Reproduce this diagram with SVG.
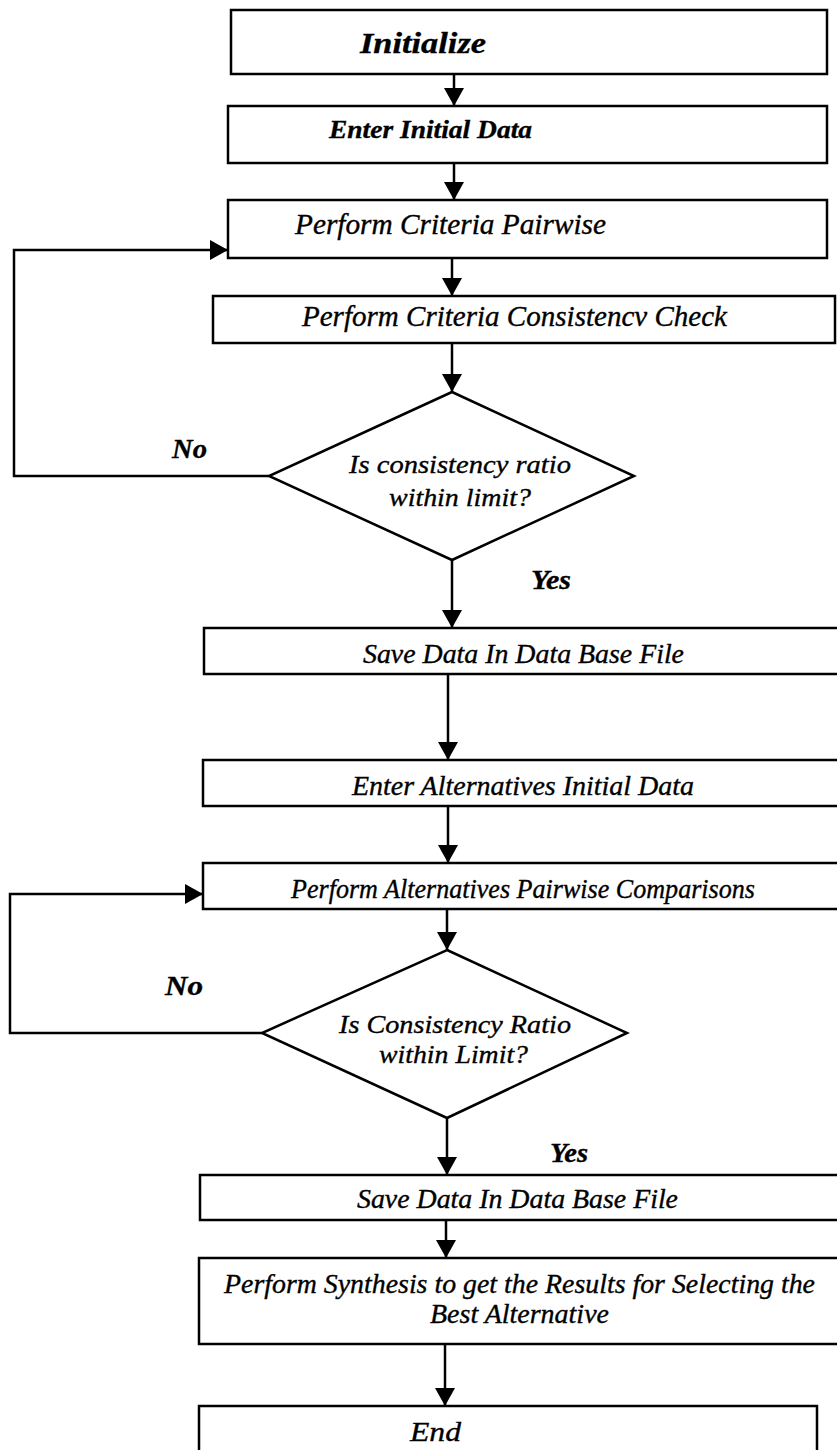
<svg xmlns="http://www.w3.org/2000/svg" width="837" height="1450" viewBox="0 0 837 1450">
<style>
.box{fill:#fff;stroke:#000;stroke-width:2.5}
.ln{fill:none;stroke:#000;stroke-width:2.5}
.t{font-family:"Liberation Serif","Times New Roman",serif;font-style:italic;fill:#000;stroke:#000;stroke-width:0.35}
.b{font-weight:bold}
</style>
<defs>
<marker id="ah" markerUnits="userSpaceOnUse" markerWidth="18" markerHeight="20" viewBox="0 0 18 20" refX="18" refY="10" orient="auto">
<path d="M0,0 L18,10 L0,20 Z" fill="#000"/>
</marker>
</defs>
<rect width="837" height="1450" fill="#fff"/>
<g id="connectors">
<path class="ln" d="M454,75 V106" marker-end="url(#ah)"/>
<path class="ln" d="M454,163 V200" marker-end="url(#ah)"/>
<path class="ln" d="M452,258 V296" marker-end="url(#ah)"/>
<path class="ln" d="M452,343 V392" marker-end="url(#ah)"/>
<path class="ln" d="M452,560 V628" marker-end="url(#ah)"/>
<path class="ln" d="M269,476 H14 V250 H228" marker-end="url(#ah)"/>
<path class="ln" d="M448,674 V760" marker-end="url(#ah)"/>
<path class="ln" d="M448,806 V863" marker-end="url(#ah)"/>
<path class="ln" d="M447,909 V950" marker-end="url(#ah)"/>
<path class="ln" d="M447,1118 V1175" marker-end="url(#ah)"/>
<path class="ln" d="M262,1033 H10 V894 H203" marker-end="url(#ah)"/>
<path class="ln" d="M446,1220 V1258" marker-end="url(#ah)"/>
<path class="ln" d="M445,1344 V1406" marker-end="url(#ah)"/>
<text class="t b" x="172" y="458" font-size="27" textLength="35" lengthAdjust="spacingAndGlyphs">No</text>
<text class="t b" x="531" y="589" font-size="27" textLength="40" lengthAdjust="spacingAndGlyphs">Yes</text>
<text class="t b" x="165" y="995" font-size="27" textLength="38" lengthAdjust="spacingAndGlyphs">No</text>
<text class="t b" x="550" y="1162" font-size="27" textLength="38" lengthAdjust="spacingAndGlyphs">Yes</text>
</g>
<g id="n-initialize">
<rect class="box" x="231" y="10" width="596" height="64"/>
<text class="t b" x="360" y="53" font-size="29" textLength="126" lengthAdjust="spacingAndGlyphs">Initialize</text>
</g>
<g id="n-enter-initial">
<rect class="box" x="228" y="106" width="599" height="57"/>
<text class="t b" x="329" y="138" font-size="26" textLength="203" lengthAdjust="spacingAndGlyphs">Enter Initial Data</text>
</g>
<g id="n-criteria-pairwise">
<rect class="box" x="228" y="200" width="599" height="58"/>
<text class="t" x="295" y="234" font-size="29" textLength="311" lengthAdjust="spacingAndGlyphs">Perform Criteria Pairwise</text>
</g>
<g id="n-criteria-check">
<rect class="box" x="213" y="296" width="622" height="47"/>
<text class="t" x="302" y="326" font-size="29" textLength="425" lengthAdjust="spacingAndGlyphs">Perform Criteria Consistencv Check</text>
</g>
<g id="n-decision1">
<polygon class="box" points="452,392 634,476 452,560 269,476"/>
<text class="t" x="349" y="473" font-size="26" textLength="222" lengthAdjust="spacingAndGlyphs">Is consistency ratio</text>
<text class="t" x="389" y="506" font-size="26" textLength="142" lengthAdjust="spacingAndGlyphs">within limit?</text>
</g>
<g id="n-save1">
<rect class="box" x="204" y="628" width="640" height="46"/>
<text class="t" x="363" y="663" font-size="27" textLength="321" lengthAdjust="spacingAndGlyphs">Save Data In Data Base File</text>
</g>
<g id="n-enter-alt">
<rect class="box" x="203" y="760" width="641" height="46"/>
<text class="t" x="352" y="795" font-size="27" textLength="342" lengthAdjust="spacingAndGlyphs">Enter Alternatives Initial Data</text>
</g>
<g id="n-alt-pairwise">
<rect class="box" x="203" y="863" width="641" height="46"/>
<text class="t" x="291" y="898" font-size="27" textLength="464" lengthAdjust="spacingAndGlyphs">Perform Alternatives Pairwise Comparisons</text>
</g>
<g id="n-decision2">
<polygon class="box" points="447,950 627,1033 447,1118 262,1033"/>
<text class="t" x="339" y="1033" font-size="26" textLength="232" lengthAdjust="spacingAndGlyphs">Is Consistency Ratio</text>
<text class="t" x="379" y="1063" font-size="26" textLength="149" lengthAdjust="spacingAndGlyphs">within Limit?</text>
</g>
<g id="n-save2">
<rect class="box" x="200" y="1175" width="644" height="45"/>
<text class="t" x="357" y="1208" font-size="27" textLength="321" lengthAdjust="spacingAndGlyphs">Save Data In Data Base File</text>
</g>
<g id="n-synthesis">
<rect class="box" x="199" y="1258" width="645" height="86"/>
<text class="t" x="224" y="1293" font-size="27" textLength="591" lengthAdjust="spacingAndGlyphs">Perform Synthesis to get the Results for Selecting the</text>
<text class="t" x="430" y="1323" font-size="27" textLength="179" lengthAdjust="spacingAndGlyphs">Best Alternative</text>
</g>
<g id="n-end">
<rect class="box" x="199" y="1406" width="618" height="60"/>
<text class="t" x="410" y="1441" font-size="27" textLength="51" lengthAdjust="spacingAndGlyphs">End</text>
</g>
</svg>
